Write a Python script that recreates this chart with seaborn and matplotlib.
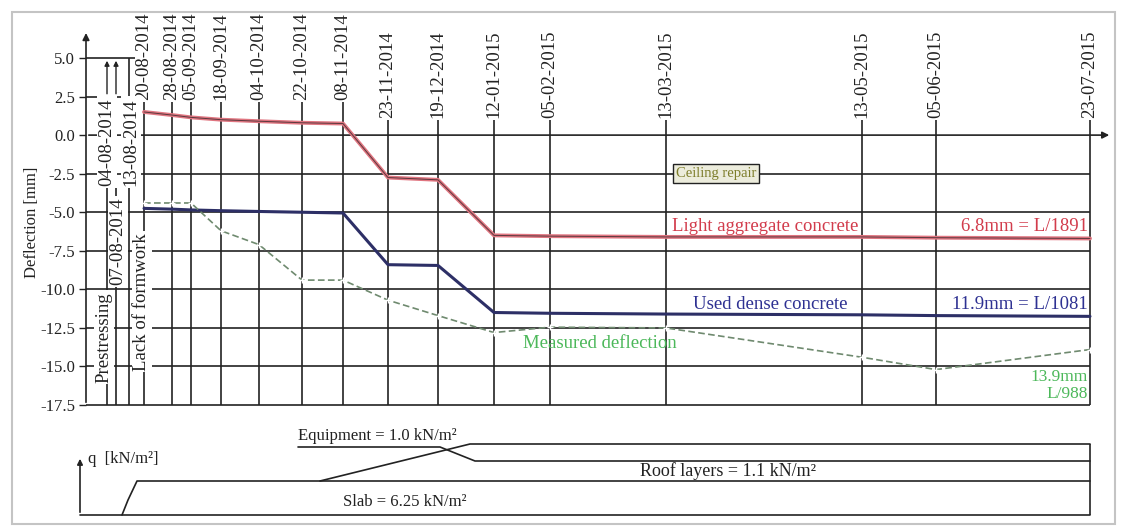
import numpy as np
import pandas as pd
import matplotlib
matplotlib.use("Agg")
import matplotlib.pyplot as plt
from matplotlib.patches import Rectangle
import seaborn as sns

# dates on the drawn time axis (the drawing is schematic, spacing is not linear in time)
stage_dates = ["20-08-2014", "28-08-2014", "05-09-2014", "18-09-2014", "04-10-2014",
               "22-10-2014", "08-11-2014", "23-11-2014", "19-12-2014", "12-01-2015",
               "05-02-2015", "13-03-2015", "13-05-2015", "05-06-2015", "23-07-2015"]
stage_pos = [58, 86, 105, 135, 173, 216, 257, 302, 352, 408, 464, 580, 776, 850, 1004]

early_dates = ["04-08-2014", "07-08-2014", "13-08-2014"]
early_pos = [21, 30, 43]

# deflections [mm]
light_aggr = [1.5, 1.3, 1.15, 1.0, 0.9, 0.8, 0.75, -2.75, -2.9, -6.5,
              -6.55, -6.6, -6.6, -6.65, -6.7]
dense = [-4.75, -4.8, -4.85, -4.9, -4.95, -5.0, -5.05, -8.4, -8.45, -11.5,
         -11.55, -11.6, -11.65, -11.7, -11.75]
measured = [-4.4, -4.4, -4.4, -6.2, -7.1, -9.4, -9.4, -10.7, -11.7, -12.8,
            -12.45, -12.5, -14.4, -15.2, -13.9]

y_ticks = [5.0, 2.5, 0.0, -2.5, -5.0, -7.5, -10.0, -12.5, -15.0, -17.5]

# load history (schematic step heights as drawn)
load_values = [6.25, 1.1, 1.0]
slab_x = [36, 42, 51, 1004]
slab_lvl = [0, 1.5, 3.4, 3.4]
roof_x = [234, 384, 1004]
roof_lvl = [3.4, 7.1, 7.1]
equip_x = [212, 354, 389, 1004]
equip_lvl = [6.8, 6.8, 5.4, 5.4]

sns.set_theme(style="white")
plt.rcParams['font.family'] = ['Liberation Serif', 'DejaVu Serif']

df = pd.DataFrame({"pos": stage_pos, "light": light_aggr, "dense": dense, "measured": measured})

fig = plt.figure(figsize=(11.24, 5.28), dpi=100)
ax = fig.add_axes([86 / 1124, 1 - 410 / 528, 1032 / 1124, 400 / 528])
axq = fig.add_axes([86 / 1124, 1 - 522 / 528, 1032 / 1124, 92 / 528])
ax.set_xlim(0, 1032)
ax.set_ylim(-17.82, 8.11)
axq.set_xlim(0, 1032)
axq.set_ylim(-0.7, 8.5)

ink = "#222222"
grid_kw = dict(color=ink, lw=1.2, zorder=1)

# horizontal grid
for v in y_ticks:
    if v < 0:
        ax.hlines(v, 0, 1004, **grid_kw)
    elif v > 0:
        ax.hlines(v, 0, 49, **grid_kw)

# vertical date lines
for p in stage_pos:
    top = 2.15 if p <= 257 else 1.0
    ax.vlines(p, -17.5, top, **grid_kw)
for p in early_pos:
    ax.vlines(p, -17.5, 2.5, **grid_kw)
for p in early_pos[:2]:
    ax.annotate("", xy=(p, 5.0), xytext=(p, 2.5),
                arrowprops=dict(arrowstyle="-|>", color=ink, lw=1, mutation_scale=7))
ax.vlines(early_pos[2], 2.5, 5.0, **grid_kw)

# axes with arrows
ax.annotate("", xy=(0, 6.8), xytext=(0, -17.5),
            arrowprops=dict(arrowstyle="-|>", color=ink, lw=1.2, mutation_scale=10))
ax.annotate("", xy=(1026, 0), xytext=(0, 0),
            arrowprops=dict(arrowstyle="-|>", color=ink, lw=1.2, mutation_scale=10))

# series
sns.lineplot(data=df, x="pos", y="light", ax=ax, color="#e07580", lw=2.8,
             sort=False, estimator=None, legend=False, zorder=3)
sns.lineplot(data=df, x="pos", y="light", ax=ax, color="#3a2a2e", lw=0.7, alpha=0.8,
             sort=False, estimator=None, legend=False, zorder=4)
sns.lineplot(data=df, x="pos", y="dense", ax=ax, color="#2d2f66", lw=2.2,
             sort=False, estimator=None, legend=False, zorder=3)
sns.lineplot(data=df, x="pos", y="measured", ax=ax, color="#6f8a6f", lw=1.2,
             linestyle=(0, (4, 2)), marker="+", markersize=5, markeredgewidth=1,
             sort=False, estimator=None, legend=False, zorder=3)

ax.set_xticks([])
ax.set_yticks(y_ticks)
ax.set_yticklabels([f"{v:.1f}" for v in y_ticks])
ax.tick_params(axis="y", length=5, width=1, direction="out", pad=3, labelsize=12,
               colors=ink, left=True)
ax.set_xlabel("")
ax.set_ylabel("Deflection [mm]", fontsize=12, color=ink)
ax.yaxis.set_label_coords(-0.045, 0.47)
sns.despine(ax=ax, left=True, bottom=True)

# date labels
for d, p in zip(stage_dates, stage_pos):
    y0 = 2.3 if p <= 257 else 1.1
    ax.text(p, y0, d, rotation=90, ha="center", va="bottom", fontsize=13.5, color=ink)

white = dict(boxstyle="square,pad=0.1", fc="white", ec="none")
ax.text(early_pos[0], -0.45, early_dates[0], rotation=90, ha="center", va="center",
        fontsize=13.5, color=ink, bbox=white, zorder=5)
ax.text(early_pos[2] + 2, -0.45, early_dates[2], rotation=90, ha="center", va="center",
        fontsize=13.5, color=ink, bbox=white, zorder=5)
ax.text(early_pos[1] + 2, -6.9, early_dates[1], rotation=90, ha="center", va="center",
        fontsize=13.5, color=ink, bbox=white, zorder=5)
ax.text(18, -13.1, "Prestressing", rotation=90, ha="center", va="center",
        fontsize=13.5, color=ink, bbox=white, zorder=5)
ax.text(56, -10.8, "Lack of formwork", rotation=90, ha="center", va="center",
        fontsize=13.5, color=ink, bbox=white, zorder=5)

# annotations
red, navy, green = "#d23c4c", "#2e3192", "#4cb85a"
ax.text(679, -5.95, "Light aggregate concrete", color=red, ha="center", va="center", fontsize=13.5)
ax.text(1002, -5.95, "6.8mm = L/1891", color=red, ha="right", va="center", fontsize=13.5)
ax.text(684, -10.95, "Used dense concrete", color=navy, ha="center", va="center", fontsize=13.5)
ax.text(1002, -10.95, "11.9mm = L/1081", color=navy, ha="right", va="center", fontsize=13.5)
ax.text(514, -13.5, "Measured deflection", color=green, ha="center", va="center", fontsize=13.5)
ax.text(1002, -15.7, "13.9mm", color=green, ha="right", va="center", fontsize=12.5)
ax.text(1002, -16.8, "L/988", color=green, ha="right", va="center", fontsize=12.5)
ax.text(630, -2.5, "Ceiling repair", ha="center", va="center", fontsize=10.5, color="#7d7d2a",
        bbox=dict(boxstyle="square,pad=0.2", fc="#ececdc", ec=ink, lw=1), zorder=6)

# load panel
axq.axis("off")
axq.plot([-6, 1004], [0, 0], color=ink, lw=1.2, clip_on=False)
axq.annotate("", xy=(-6, 5.9), xytext=(-6, 0), annotation_clip=False,
             arrowprops=dict(arrowstyle="-|>", color=ink, lw=1.2, mutation_scale=8))
sns.lineplot(x=slab_x, y=slab_lvl, ax=axq, color=ink, lw=1.2, sort=False,
             estimator=None, clip_on=False)
sns.lineplot(x=roof_x, y=roof_lvl, ax=axq, color=ink, lw=1.2, sort=False,
             estimator=None, clip_on=False)
sns.lineplot(x=equip_x, y=equip_lvl, ax=axq, color=ink, lw=1.2, sort=False,
             estimator=None, clip_on=False)
axq.vlines(1004, 0, 7.1, color=ink, lw=1.2)

axq.text(2, 5.6, "q  [kN/m²]", ha="left", va="center", fontsize=12, color=ink)
axq.text(212, 7.9, f"Equipment = {load_values[2]} kN/m²", ha="left", va="center",
         fontsize=12, color=ink)
axq.text(554, 4.4, f"Roof layers = {load_values[1]} kN/m²", ha="left", va="center",
         fontsize=13, color=ink)
axq.text(319, 1.3, f"Slab = {load_values[0]} kN/m²", ha="center", va="center",
         fontsize=12, color=ink)

# outer frame
fig.add_artist(Rectangle((12 / 1124, 4 / 528), (1115 - 12) / 1124, (524 - 12) / 528,
                         transform=fig.transFigure, fill=False, ec="#c4c4c4", lw=1.5))

fig.savefig("out.png", dpi=100)
